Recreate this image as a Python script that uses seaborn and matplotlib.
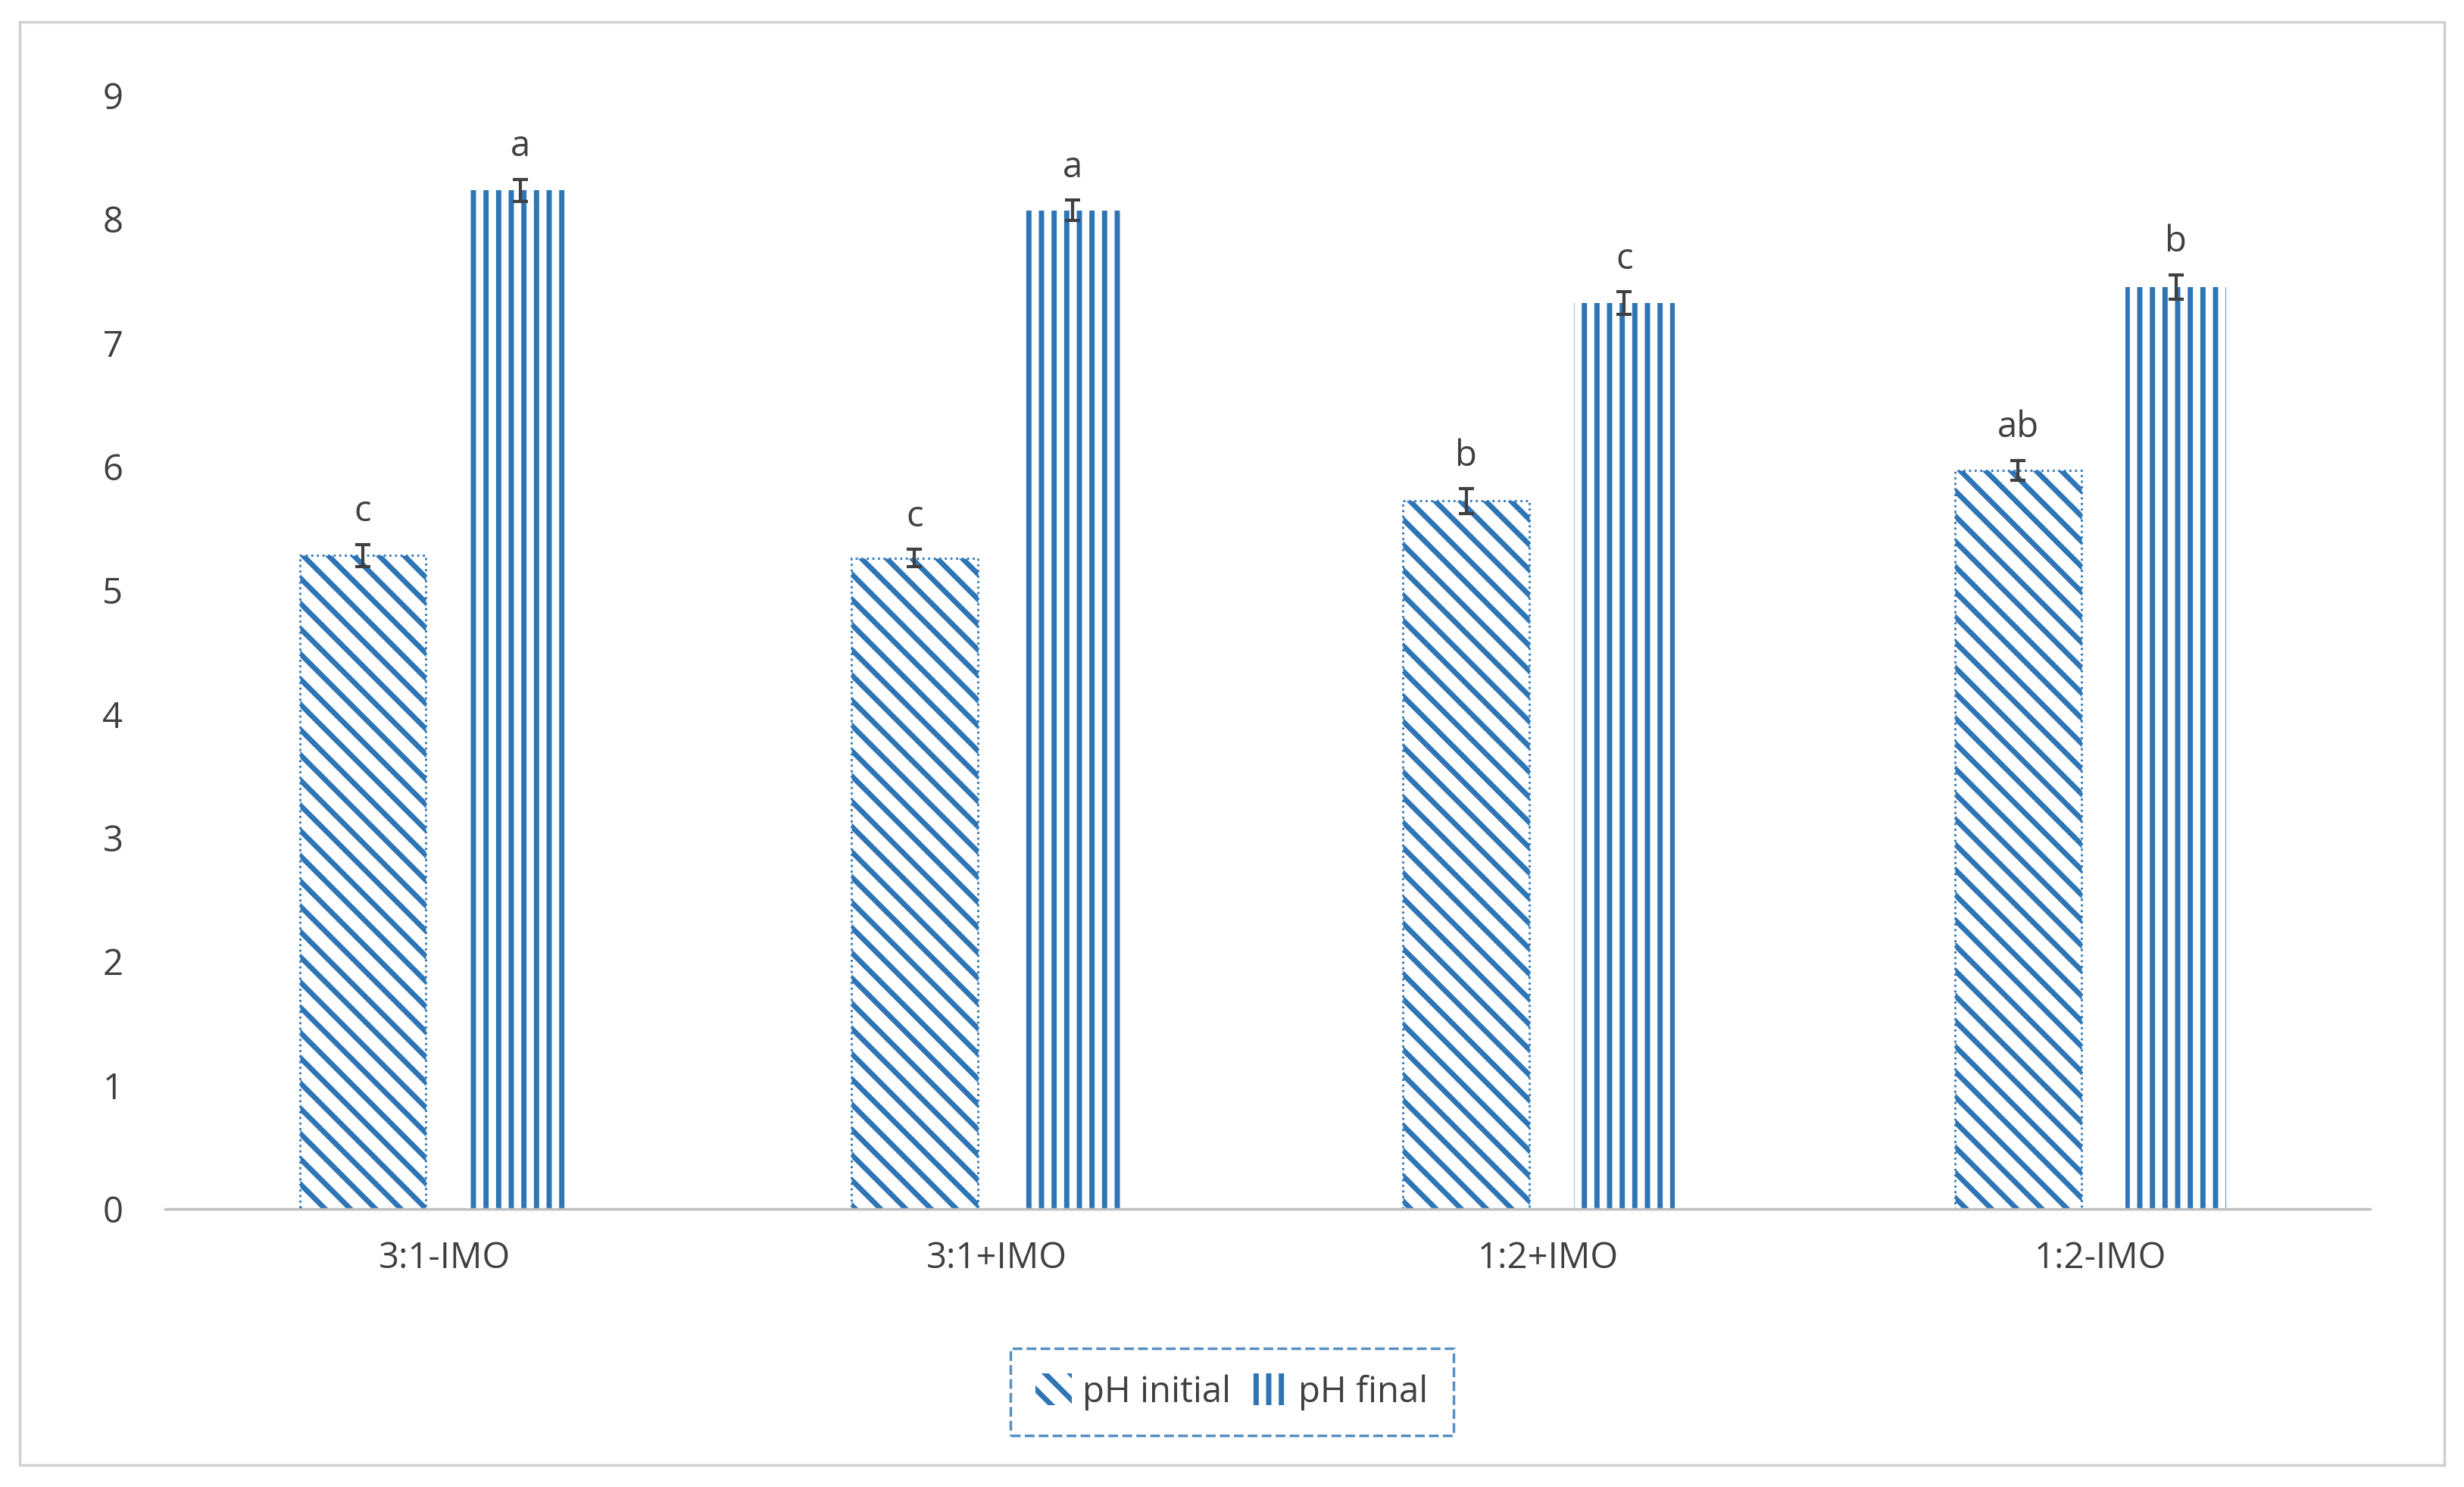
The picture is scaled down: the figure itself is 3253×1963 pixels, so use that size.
import matplotlib
matplotlib.use("Agg")
import matplotlib.pyplot as plt
import seaborn as sns
import pandas as pd
from matplotlib.patches import Patch, Rectangle

categories = ["3:1-IMO", "3:1+IMO", "1:2+IMO", "1:2-IMO"]
ph_initial = [5.28, 5.26, 5.72, 5.97]
ph_final = [8.23, 8.07, 7.32, 7.45]
err_initial = [0.09, 0.07, 0.10, 0.08]
err_final = [0.09, 0.08, 0.09, 0.10]
let_initial = ["c", "c", "b", "ab"]
let_final = ["a", "a", "c", "b"]
series = ["pH initial", "pH final"]

sns.set_theme(style="white")
plt.rcParams['font.family'] = ['Open Sans', 'DejaVu Sans']
plt.rcParams['hatch.linewidth'] = 5
blue = "#2E75B6"

df = pd.DataFrame({
    "cat": categories * 2,
    "series": [series[0]] * 4 + [series[1]] * 4,
    "val": ph_initial + ph_final,
})

fig = plt.figure(figsize=(32.53, 19.63), dpi=100)
ax = fig.add_axes([0.067, 0.187, 0.895, 0.749])
sns.barplot(data=df, x="cat", y="val", hue="series", order=categories,
            hue_order=series, ax=ax, width=0.6, gap=0.2, legend=False,
            errorbar=None)

init_patches = ax.patches[:4]
fin_patches = ax.patches[4:8]
for i, p in enumerate(init_patches):
    p.set_x(i - 0.263); p.set_width(0.229)
    p.set_facecolor("white"); p.set_edgecolor(blue); p.set_hatch("\\")
    p.set_linestyle(":"); p.set_linewidth(2)
for i, p in enumerate(fin_patches):
    p.set_x(i + 0.046); p.set_width(0.183)
    p.set_facecolor("white"); p.set_edgecolor(blue); p.set_hatch("|")
    p.set_linewidth(0)

for patches, vals, errs, lets in [(init_patches, ph_initial, err_initial, let_initial),
                                  (fin_patches, ph_final, err_final, let_final)]:
    xs = [p.get_x() + p.get_width() / 2 for p in patches]
    ax.errorbar(xs, vals, yerr=errs, fmt="none", ecolor="#404040",
                elinewidth=3, capsize=7, capthick=3)
    for x, v, e, l in zip(xs, vals, errs, lets):
        ax.text(x, v + e + 0.12, l, ha="center", va="bottom", fontsize=34, color="#404040")

ax.set_ylim(0, 9)
ax.set_yticks(range(10))
ax.set_xlim(-0.507, 3.49)
ax.set_xlabel(""); ax.set_ylabel("")
ax.tick_params(axis="both", labelsize=34, colors="#404040", length=0)
ax.tick_params(axis="y", pad=40)
ax.tick_params(axis="x", pad=30)
for s in ["top", "right", "left"]:
    ax.spines[s].set_visible(False)
ax.spines["bottom"].set_color("#BFBFBF")
ax.spines["bottom"].set_linewidth(2.5)

handles = [Patch(facecolor="white", edgecolor=blue, hatch="\\", linewidth=0),
           Patch(facecolor="white", edgecolor=blue, hatch="|", linewidth=0)]
leg = fig.legend(handles, series, loc="center", bbox_to_anchor=(0.5, 0.064),
                 ncol=2, fontsize=34, frameon=True, handlelength=1.0,
                 handleheight=1.0, columnspacing=0.6, handletextpad=0.3,
                 labelcolor="#404040")
leg.get_frame().set_edgecolor(blue)
leg.get_frame().set_linestyle("--")
leg.get_frame().set_linewidth(2.5)
leg.get_frame().set_boxstyle("square")

fig.patches.append(Rectangle((0.008, 0.015), 0.984, 0.97, transform=fig.transFigure,
                             fill=False, edgecolor="#D0D0D0", linewidth=2.5))
fig.savefig("out.png", dpi=100)
